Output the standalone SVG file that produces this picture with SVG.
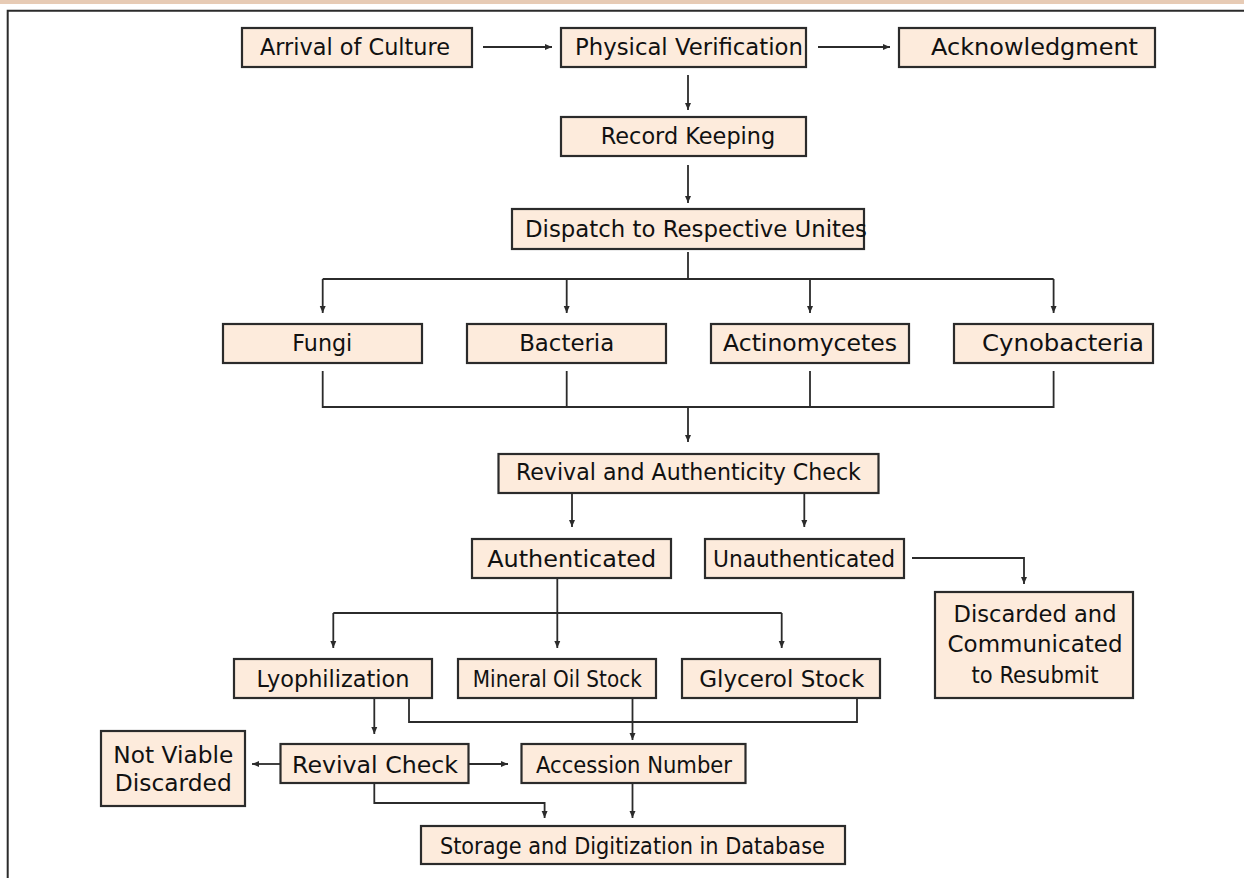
<svg xmlns="http://www.w3.org/2000/svg" width="1244" height="878" viewBox="0 0 1244 878">
<style>
.box{fill:#FDEBDC;stroke:#2b2b2b;stroke-width:2.2}
.t{font-family:"DejaVu Sans","Liberation Sans",sans-serif;font-size:22.4px;fill:#111;text-anchor:middle}
.c{fill:none;stroke:#2b2b2b;stroke-width:1.8}
.a{marker-end:url(#ah)}
</style>
<defs>
<marker id="ah" viewBox="0 0 8 8" refX="8" refY="4" markerWidth="7" markerHeight="7" orient="auto" markerUnits="userSpaceOnUse">
<path d="M0,0.6 L8,4 L0,7.4 z" fill="#2b2b2b"/>
</marker>
</defs>
<rect x="0" y="0" width="1244" height="4" fill="#E7CBB5"/>
<path d="M7.7,878 V10.7 H1244" fill="none" stroke="#2b2b2b" stroke-width="2"/>
<g id="connectors">
<path class="c a" d="M483,47 H552"/>
<path class="c a" d="M818,47 H890"/>
<path class="c a" d="M688,75 V110"/>
<path class="c a" d="M688,165 V203"/>
<path class="c" d="M688,252 V279"/>
<path class="c a" d="M322.7,279 V313"/>
<path class="c" d="M322.7,279 H1053.6"/>
<path class="c a" d="M566.7,279 V313"/>
<path class="c a" d="M810,279 V313"/>
<path class="c a" d="M1053.6,279 V313"/>
<path class="c" d="M322.7,371 V407 H1053.6 V371"/>
<path class="c" d="M566.7,371 V407"/>
<path class="c" d="M810,371 V407"/>
<path class="c a" d="M688,407 V442"/>
<path class="c a" d="M572,493 V527"/>
<path class="c a" d="M804.3,493 V527"/>
<path class="c a" d="M912,558 H1024 V584"/>
<path class="c" d="M557.3,578 V613"/>
<path class="c a" d="M333.3,613 V648"/>
<path class="c" d="M333.3,613 H781.7"/>
<path class="c a" d="M557.3,613 V648"/>
<path class="c a" d="M781.7,613 V648"/>
<path class="c a" d="M374.3,698 V734"/>
<path class="c" d="M409,698 V722 H857 V698"/>
<path class="c a" d="M632.5,698 V740"/>
<path class="c a" d="M280,764 H252"/>
<path class="c a" d="M469,764 H508"/>
<path class="c a" d="M374.3,784 V803 H544.6 V818"/>
<path class="c a" d="M632.5,784 V818"/>
</g>
<g id="arrival"><rect class="box" x="242" y="28" width="230" height="39"/><text class="t" x="355" y="55" textLength="190" lengthAdjust="spacingAndGlyphs">Arrival of Culture</text></g>
<g id="physical"><rect class="box" x="561" y="28" width="245" height="39"/><text class="t" x="689" y="55" textLength="228" lengthAdjust="spacingAndGlyphs">Physical Verification</text></g>
<g id="ack"><rect class="box" x="899" y="28" width="256" height="39"/><text class="t" x="1034.5" y="55" textLength="207" lengthAdjust="spacingAndGlyphs">Acknowledgment</text></g>
<g id="record"><rect class="box" x="561" y="117" width="245" height="39"/><text class="t" x="688" y="144">Record Keeping</text></g>
<g id="dispatch"><rect class="box" x="512" y="209" width="352" height="40"/><text class="t" x="696" y="237" textLength="342" lengthAdjust="spacingAndGlyphs">Dispatch to Respective Unites</text></g>
<g id="fungi"><rect class="box" x="223" y="324" width="199" height="39"/><text class="t" x="322.3" y="351" textLength="60" lengthAdjust="spacingAndGlyphs">Fungi</text></g>
<g id="bacteria"><rect class="box" x="467" y="324" width="199" height="39"/><text class="t" x="566.7" y="351" textLength="95" lengthAdjust="spacingAndGlyphs">Bacteria</text></g>
<g id="actino"><rect class="box" x="711" y="324" width="198" height="39"/><text class="t" x="810" y="351" textLength="174" lengthAdjust="spacingAndGlyphs">Actinomycetes</text></g>
<g id="cyno"><rect class="box" x="954" y="324" width="199" height="39"/><text class="t" x="1063" y="351" textLength="162" lengthAdjust="spacingAndGlyphs">Cynobacteria</text></g>
<g id="revival-auth"><rect class="box" x="498.5" y="454" width="380" height="39"/><text class="t" x="688.4" y="480" textLength="345" lengthAdjust="spacingAndGlyphs">Revival and Authenticity Check</text></g>
<g id="authenticated"><rect class="box" x="472" y="539" width="199" height="39"/><text class="t" x="571.7" y="567" textLength="169" lengthAdjust="spacingAndGlyphs">Authenticated</text></g>
<g id="unauthenticated"><rect class="box" x="705" y="539" width="199" height="39"/><text class="t" x="804" y="567" textLength="182" lengthAdjust="spacingAndGlyphs">Unauthenticated</text></g>
<g id="discarded"><rect class="box" x="935" y="592" width="198" height="106"/><text class="t" x="1035" y="622" textLength="163" lengthAdjust="spacingAndGlyphs">Discarded and</text><text class="t" x="1035" y="652" textLength="175" lengthAdjust="spacingAndGlyphs">Communicated</text><text class="t" x="1035" y="683" textLength="127" lengthAdjust="spacingAndGlyphs">to Resubmit</text></g>
<g id="lyo"><rect class="box" x="234" y="659" width="198" height="39"/><text class="t" x="333" y="687" textLength="153" lengthAdjust="spacingAndGlyphs">Lyophilization</text></g>
<g id="mineral"><rect class="box" x="458" y="659" width="198" height="39"/><text class="t" x="557.3" y="687" textLength="169" lengthAdjust="spacingAndGlyphs">Mineral Oil Stock</text></g>
<g id="glycerol"><rect class="box" x="682" y="659" width="198" height="39"/><text class="t" x="781.8" y="687" textLength="165" lengthAdjust="spacingAndGlyphs">Glycerol Stock</text></g>
<g id="notviable"><rect class="box" x="101" y="731" width="144" height="75"/><text class="t" x="173.3" y="763" textLength="120" lengthAdjust="spacingAndGlyphs">Not Viable</text><text class="t" x="173.3" y="791" textLength="117" lengthAdjust="spacingAndGlyphs">Discarded</text></g>
<g id="revivalcheck"><rect class="box" x="280.5" y="744" width="188" height="39"/><text class="t" x="375" y="773" textLength="166" lengthAdjust="spacingAndGlyphs">Revival Check</text></g>
<g id="accession"><rect class="box" x="521.5" y="744" width="224" height="39"/><text class="t" x="634" y="773" textLength="196" lengthAdjust="spacingAndGlyphs">Accession Number</text></g>
<g id="storage"><rect class="box" x="421" y="826" width="424" height="38"/><text class="t" x="632.4" y="854" textLength="385" lengthAdjust="spacingAndGlyphs">Storage and Digitization in Database</text></g>
</svg>
